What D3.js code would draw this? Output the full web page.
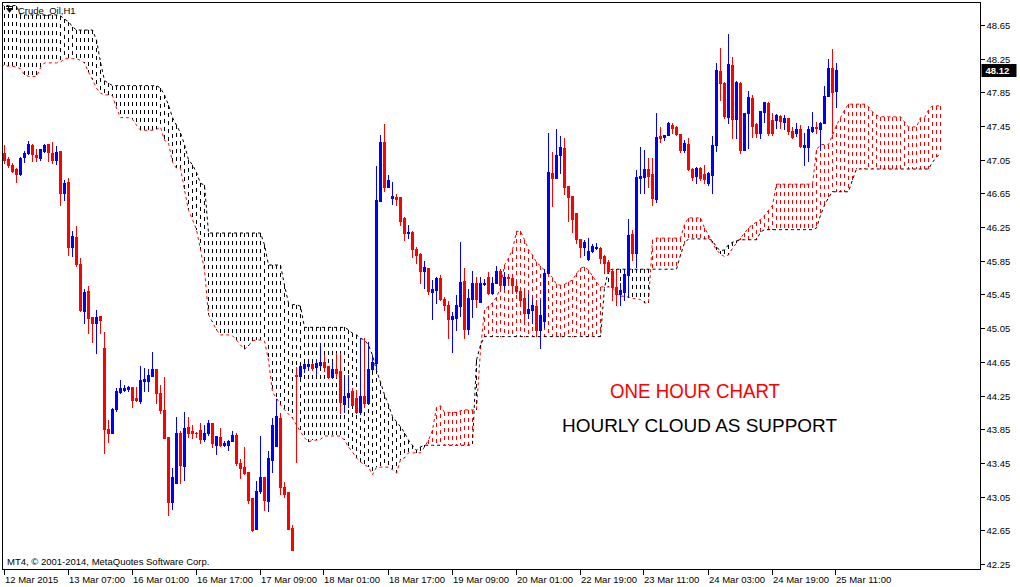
<!DOCTYPE html>
<html><head><meta charset="utf-8">
<script src="https://cdn.jsdelivr.net/npm/d3@7"></script>
<style>
html,body{margin:0;padding:0;background:#fff;}
svg{display:block;}
text{font-family:"Liberation Sans",Arial,sans-serif;}
</style></head><body>
<svg id="c" width="1020" height="587"></svg>
<script>
// ---------- DATA (hourly Crude_Oil candles, 12-25 Mar 2015) ----------
const opens = [47.13,47.06,46.99,46.94,46.88,47.08,47.13,47.23,47.11,47.07,
47.15,47.24,47.13,47.05,47.15,46.66,46.79,46.01,46.13,45.81,
45.25,45.49,45.18,45.11,45.20,44.82,43.85,43.81,44.09,44.29,
44.32,44.33,44.35,44.22,44.19,44.42,44.42,44.48,44.57,44.28,
44.08,43.76,42.99,43.21,43.81,43.41,43.88,43.83,43.81,43.84,
43.74,43.81,43.92,43.66,43.76,43.66,43.66,43.71,43.78,43.45,
43.40,43.34,43.03,42.67,43.12,43.28,43.00,43.49,43.65,43.98,
43.16,43.10,42.68,44.49,44.48,44.58,44.60,44.63,44.59,44.61,
44.65,44.60,44.47,44.57,44.54,44.15,44.23,44.30,44.22,44.05,
44.25,44.16,44.57,44.64,46.56,47.26,46.73,46.60,46.61,46.61,
46.36,46.18,46.19,45.99,45.93,45.73,45.77,45.48,45.50,45.65,
45.40,45.33,45.16,45.17,45.31,45.61,45.04,45.40,45.59,45.36,
45.58,45.66,45.47,45.59,45.73,45.56,45.66,45.65,45.55,45.49,
45.41,45.23,45.27,45.31,45.03,45.14,45.71,46.89,46.83,47.11,
47.19,46.74,46.62,46.42,46.11,46.01,45.87,45.97,46.00,46.00,
45.91,45.84,45.73,45.54,45.46,45.48,45.68,46.17,45.94,46.83,
46.85,46.94,46.88,46.58,47.33,47.32,47.34,47.46,47.44,47.36,
47.17,47.24,46.94,46.86,46.95,46.88,46.77,46.87,47.23,48.10,
47.96,47.56,48.18,47.53,47.96,47.17,47.61,47.78,47.47,47.37,
47.62,47.72,47.52,47.52,47.57,47.50,47.55,47.39,47.37,47.42,
47.20,47.20,47.39,47.44,47.42,47.49,47.81,48.14,47.87];
const highs = [47.23,47.08,47.01,46.95,47.08,47.15,47.27,47.24,47.18,47.18,
47.24,47.24,47.26,47.21,47.15,46.81,46.83,46.20,46.26,45.88,
45.52,45.55,45.18,45.27,45.20,45.00,43.96,44.10,44.34,44.44,
44.38,44.36,44.35,44.35,44.60,44.58,44.57,44.77,44.57,44.38,
44.47,43.76,43.39,43.99,43.83,44.05,44.00,43.90,43.82,43.92,
43.90,43.96,43.92,43.77,43.87,43.71,43.72,43.83,43.81,43.50,
43.64,43.34,43.03,43.24,43.77,43.28,43.59,43.98,44.21,44.04,
43.22,43.10,42.71,44.59,44.61,44.64,44.65,44.64,44.68,44.87,
44.73,44.60,44.66,44.76,44.76,44.49,44.49,44.34,44.32,44.93,
44.93,44.89,44.73,46.98,47.34,47.47,46.87,46.79,46.64,46.61,
46.37,46.28,46.20,46.01,45.94,45.85,45.77,45.62,45.66,45.68,
45.42,45.37,45.24,45.44,46.07,45.77,45.52,45.73,45.66,45.66,
45.63,45.72,45.66,45.79,45.75,45.72,45.68,45.66,45.59,45.54,
45.48,45.46,45.40,45.39,45.39,45.75,47.37,47.14,47.42,47.33,
47.31,46.74,46.62,46.42,46.11,46.10,46.12,46.05,46.06,46.01,
45.92,45.86,45.75,45.74,45.59,45.74,46.35,46.22,46.93,47.20,
47.17,47.07,47.07,47.61,47.44,47.34,47.50,47.49,47.45,47.36,
47.29,47.31,46.95,46.96,46.96,46.99,46.90,47.33,48.20,48.38,
47.97,48.54,48.27,47.98,47.97,47.61,47.87,47.82,47.49,47.63,
47.74,47.74,47.61,47.59,47.58,47.58,47.55,47.44,47.49,47.46,
47.37,47.45,47.62,47.50,47.50,47.93,48.25,48.37,48.20];
const lows = [47.01,46.96,46.90,46.79,46.87,47.02,47.12,47.04,47.04,47.05,
47.14,47.04,47.01,47.00,46.51,46.57,45.92,45.91,45.79,45.25,
45.11,44.99,44.89,44.76,44.99,43.57,43.70,43.80,44.07,44.28,
44.30,44.30,44.11,44.19,44.16,44.30,44.30,44.48,44.16,44.04,
43.75,42.83,42.90,43.21,43.21,43.25,43.76,43.75,43.76,43.69,
43.71,43.78,43.64,43.56,43.65,43.65,43.60,43.71,43.43,43.27,
43.32,42.97,42.64,42.67,43.09,42.89,42.88,43.34,43.65,43.08,
43.05,42.67,42.42,43.46,44.47,44.53,44.55,44.55,44.51,44.59,
44.54,44.46,44.46,44.47,44.04,44.06,44.11,44.14,44.04,44.03,
44.11,44.16,44.55,44.57,46.56,46.68,46.73,46.52,46.51,46.28,
46.10,46.12,45.90,45.82,45.59,45.53,45.45,45.16,45.35,45.39,
45.27,44.93,44.77,45.03,45.20,44.93,44.98,45.18,45.30,45.36,
45.56,45.46,45.46,45.59,45.52,45.52,45.59,45.52,45.47,45.34,
45.10,45.17,45.11,44.99,44.82,45.06,45.71,46.50,46.83,46.89,
46.64,46.32,46.19,46.06,45.90,45.92,45.86,45.95,45.99,45.82,
45.71,45.72,45.39,45.33,45.33,45.39,45.42,45.86,45.78,46.66,
46.66,46.73,46.51,46.55,47.26,47.28,47.34,47.37,47.34,47.14,
47.14,46.93,46.81,46.77,46.81,46.77,46.75,46.66,47.15,47.76,
47.55,47.49,47.31,47.31,47.13,47.17,47.19,47.32,47.32,47.31,
47.50,47.34,47.34,47.43,47.43,47.42,47.36,47.31,47.33,47.20,
46.99,47.04,47.38,47.37,47.17,47.49,47.81,47.37,47.68];
const closes = [47.05,46.99,46.92,46.88,47.07,47.13,47.24,47.12,47.08,47.18,
47.23,47.14,47.05,47.14,46.66,46.77,46.01,46.15,45.81,45.27,
45.48,45.17,45.11,45.18,45.15,43.85,43.81,44.09,44.30,44.34,
44.34,44.35,44.20,44.20,44.44,44.45,44.49,44.57,44.28,44.08,
43.75,42.99,43.28,43.81,43.43,43.87,43.81,43.81,43.80,43.74,
43.81,43.92,43.69,43.77,43.66,43.69,43.71,43.78,43.45,43.39,
43.33,43.01,42.65,43.12,43.28,43.01,43.51,43.90,44.01,43.16,
43.08,42.67,42.42,44.48,44.60,44.63,44.63,44.58,44.64,44.65,
44.59,44.47,44.57,44.52,44.17,44.25,44.28,44.14,44.05,44.25,
44.16,44.57,44.65,46.57,47.26,46.73,46.81,46.62,46.58,46.32,
46.18,46.19,45.99,45.92,45.73,45.78,45.49,45.52,45.65,45.40,
45.33,45.16,45.20,45.33,45.60,45.04,45.41,45.59,45.40,45.59,
45.59,45.47,45.59,45.73,45.56,45.66,45.65,45.56,45.49,45.38,
45.23,45.28,45.33,45.03,45.21,45.71,46.90,46.83,47.11,47.20,
46.73,46.61,46.35,46.11,46.01,46.07,45.97,46.03,46.01,45.88,
45.82,45.73,45.54,45.46,45.50,45.69,46.16,45.94,46.85,46.86,
46.94,46.86,46.60,47.32,47.31,47.34,47.49,47.43,47.36,47.17,
47.25,46.94,46.85,46.95,46.83,46.82,46.89,47.23,48.12,47.96,
47.57,48.19,47.53,47.97,47.17,47.61,47.80,47.45,47.37,47.63,
47.74,47.37,47.37,47.58,47.51,47.55,47.39,47.32,47.42,47.21,
47.23,47.42,47.44,47.43,47.49,47.81,48.14,47.85,48.12];

// Ichimoku cloud (Senkou Span A / B), first value belongs to bar -1, runs 26 bars past the last candle
const cloudFirstBar = -1;
const spanA = [48.17,48.17,48.16,48.16,48.15,48.13,48.06,48.04,48.04,48.04,
48.14,48.20,48.20,48.20,48.20,48.21,48.25,48.25,48.25,48.25,
48.23,48.20,48.09,48.00,47.90,47.84,47.82,47.82,47.81,47.66,
47.55,47.55,47.55,47.53,47.46,47.40,47.40,47.40,47.40,47.41,
47.44,47.28,47.25,47.02,46.95,46.95,46.69,46.45,46.34,46.22,
45.98,45.74,45.21,45.12,45.03,44.97,44.97,44.97,44.96,44.91,
44.85,44.80,44.84,44.90,44.91,44.91,44.90,44.67,44.29,44.22,
44.14,44.08,44.03,43.98,43.90,43.82,43.75,43.70,43.72,43.72,
43.73,43.77,43.77,43.77,43.77,43.77,43.72,43.64,43.58,43.51,
43.46,43.43,43.40,43.31,43.40,43.40,43.40,43.40,43.37,43.33,
43.49,43.51,43.57,43.57,43.57,43.57,43.64,43.72,43.84,44.11,
44.13,44.05,44.05,44.05,44.05,44.07,44.08,44.08,44.08,44.08,
44.79,45.27,45.31,45.35,45.42,45.53,45.80,45.88,45.98,46.20,
46.20,46.10,45.98,45.92,45.83,45.79,45.74,45.70,45.65,45.57,
45.56,45.57,45.60,45.62,45.70,45.76,45.78,45.74,45.67,45.60,
45.54,45.54,45.54,45.53,45.47,45.43,45.43,45.42,45.40,45.40,
45.39,45.35,45.35,46.10,46.12,46.12,46.12,46.12,46.12,46.12,
46.12,46.28,46.36,46.36,46.36,46.36,46.24,46.16,46.06,45.98,
45.93,45.90,45.92,46.00,46.06,46.12,46.18,46.24,46.28,46.31,
46.34,46.39,46.45,46.51,46.76,46.76,46.76,46.76,46.76,46.76,
46.76,46.76,46.76,46.76,47.17,47.23,47.23,47.23,47.34,47.46,
47.55,47.64,47.71,47.71,47.71,47.71,47.71,47.68,47.62,47.58,
47.56,47.56,47.56,47.56,47.56,47.56,47.50,47.44,47.44,47.44,
47.55,47.55,47.64,47.69,47.69,47.69];
const spanB = [48.88,48.88,48.88,48.88,48.88,48.77,48.77,48.77,48.77,48.77,
48.77,48.77,48.77,48.77,48.77,48.76,48.72,48.69,48.63,48.59,
48.59,48.59,48.59,48.59,48.47,48.21,47.99,47.96,47.93,47.93,
47.93,47.93,47.93,47.93,47.93,47.93,47.93,47.93,47.93,47.93,
47.90,47.82,47.70,47.55,47.46,47.37,47.23,47.05,46.99,46.90,
46.77,46.75,46.18,46.18,46.18,46.18,46.18,46.18,46.18,46.18,
46.18,46.18,46.18,46.18,46.18,46.18,46.04,45.80,45.80,45.80,
45.80,45.56,45.35,45.33,45.33,45.31,45.06,45.06,45.06,45.06,
45.06,45.06,45.06,45.06,45.06,45.06,45.06,45.03,44.99,44.97,
44.93,44.91,44.85,44.73,44.55,44.41,44.26,44.14,44.00,43.94,
43.88,43.81,43.72,43.66,43.60,43.64,43.66,43.66,43.66,43.66,
43.66,43.66,43.66,43.66,43.66,43.66,43.66,43.66,43.67,44.67,
44.85,44.95,44.95,44.95,44.95,44.95,44.95,44.95,44.95,44.95,
44.95,44.95,44.95,44.95,44.95,44.95,44.95,44.95,44.95,44.95,
44.95,44.95,44.95,44.95,44.95,44.95,44.95,44.95,44.95,44.95,
44.95,45.53,45.74,45.75,45.75,45.75,45.75,45.75,45.75,45.75,
45.75,45.75,45.75,45.75,45.75,45.75,45.75,45.75,45.75,45.75,
45.92,46.06,46.11,46.11,46.11,46.11,46.11,46.11,46.09,46.01,
45.97,45.98,46.04,46.07,46.09,46.10,46.10,46.10,46.10,46.10,
46.19,46.22,46.22,46.22,46.22,46.22,46.22,46.22,46.22,46.22,
46.22,46.22,46.22,46.22,46.24,46.39,46.51,46.60,46.67,46.67,
46.67,46.67,46.67,46.81,46.94,46.94,46.94,46.94,46.94,46.94,
46.94,46.94,46.94,46.94,46.94,46.94,46.94,46.94,46.94,46.94,
46.94,46.94,46.94,47.02,47.08,47.13];

const priceTicks = [48.65,48.25,47.85,47.45,47.05,46.65,46.25,45.85,45.45,45.05,44.65,44.25,43.85,43.45,43.05,42.65,42.25];
const timeLabels = ["12 Mar 2015","13 Mar 07:00","16 Mar 01:00","16 Mar 17:00","17 Mar 09:00","18 Mar 01:00","18 Mar 17:00","19 Mar 09:00","20 Mar 01:00","22 Mar 19:00","23 Mar 11:00","24 Mar 03:00","24 Mar 19:00","25 Mar 11:00"];
const timeLabelBars = [0,16,32,48,64,80,96,112,128,144,160,176,192,208];
const chartTitle = "Crude_Oil,H1";
const copyright = "MT4, \u00A9 2001-2014, MetaQuotes Software Corp.";
const note1 = "ONE HOUR CHART";
const note2 = "HOURLY CLOUD AS SUPPORT";

// ---------- LAYOUT ----------
const svg = d3.select("#c");
const L = 2.5, T = 2.5, R = 980.5, B = 569.5;
const xs = d3.scaleLinear().domain([0, 244]).range([4.5, 980.5]);
const ys = d3.scaleLinear().domain([42.25, 48.65]).range([564, 25]);
const BULL = "#0000ff", BEAR = "#ff0000";

svg.append("rect").attr("width",1020).attr("height",587).attr("fill","#fff");
svg.append("defs").append("clipPath").attr("id","plot")
  .append("rect").attr("x",L+0.5).attr("y",T+0.5).attr("width",R-L-1).attr("height",B-T-1);

const g = svg.append("g").attr("clip-path","url(#plot)");

// cloud hatch
const cloudIdx = d3.range(spanA.length);
g.append("g").attr("shape-rendering","crispEdges").selectAll("line").data(cloudIdx).join("line")
  .attr("x1", k => xs(k + cloudFirstBar)).attr("x2", k => xs(k + cloudFirstBar))
  .attr("y1", k => Math.round(Math.min(ys(spanA[k]), ys(spanB[k]))))
  .attr("y2", k => Math.round(Math.max(ys(spanA[k]), ys(spanB[k]))))
  .attr("stroke", k => spanA[k] >= spanB[k] ? BEAR : "#000")
  .attr("stroke-width",1).attr("stroke-dasharray","4,4");

// span lines
const lineA = d3.line().x((d,k) => xs(k + cloudFirstBar)).y(d => ys(d));
g.append("path").attr("d", lineA(spanA)).attr("fill","none").attr("stroke",BEAR).attr("stroke-width",1).attr("stroke-dasharray","3,3");
g.append("path").attr("d", lineA(spanB)).attr("fill","none").attr("stroke","#000").attr("stroke-width",1).attr("stroke-dasharray","3,3");

// candles
const idx = d3.range(opens.length);
const cg = g.append("g").attr("shape-rendering","crispEdges");
cg.selectAll("rect.w").data(idx).join("rect").attr("class","w")
  .attr("x", i => xs(i) - 0.5).attr("width", 1)
  .attr("y", i => Math.round(ys(highs[i])))
  .attr("height", i => Math.round(ys(lows[i])) - Math.round(ys(highs[i])) + 1)
  .attr("fill", i => closes[i] >= opens[i] ? BULL : BEAR);
cg.selectAll("rect.b").data(idx).join("rect").attr("class","b")
  .attr("x", i => xs(i) - 1.5).attr("width", 3)
  .attr("y", i => Math.round(ys(Math.max(opens[i], closes[i]))))
  .attr("height", i => Math.round(ys(Math.min(opens[i], closes[i]))) - Math.round(ys(Math.max(opens[i], closes[i]))) + 1)
  .attr("fill", i => closes[i] >= opens[i] ? BULL : BEAR);

// frame
svg.append("rect").attr("x",L).attr("y",T).attr("width",R-L).attr("height",B-T)
  .attr("fill","none").attr("stroke","#000").attr("stroke-width",1);

// right price axis
const ya = svg.append("g").attr("shape-rendering","crispEdges");
priceTicks.forEach(p => {
  const y = Math.round(ys(p)) + 0.5;
  ya.append("line").attr("x1",R).attr("x2",R+4).attr("y1",y).attr("y2",y).attr("stroke","#000");
  svg.append("text").attr("x",R+6).attr("y",y).attr("dy","0.35em")
    .attr("font-size",9.5).attr("fill","#000").text(d3.format(".2f")(p));
});
// last price marker
const lastY = Math.round(ys(closes[closes.length-1]));
svg.append("rect").attr("x",R+1).attr("y",lastY-6).attr("width",35).attr("height",13).attr("fill","#000");
svg.append("text").attr("x",R+5).attr("y",lastY+0.5).attr("dy","0.35em").attr("font-size",9.5)
  .attr("font-weight","bold").attr("fill","#fff").text(d3.format(".2f")(closes[closes.length-1]));

// bottom time axis
timeLabelBars.forEach((b,j) => {
  const x = Math.round(xs(b)) - 0.5;
  ya.append("line").attr("x1",x).attr("x2",x).attr("y1",B).attr("y2",B+5).attr("stroke","#000");
  svg.append("text").attr("x",x+0.5).attr("y",583).attr("font-size",9.5).attr("fill","#000").text(timeLabels[j]);
});

// title with icon
svg.append("path").attr("d","M6,8 L13,8 L9.5,13 Z").attr("fill","#000");
svg.append("rect").attr("x",6).attr("y",6).attr("width",7).attr("height",1).attr("fill","#000");
svg.append("text").attr("x",18).attr("y",14).attr("font-size",9.5).attr("fill","#000").text(chartTitle);

svg.append("text").attr("x",7).attr("y",565).attr("font-size",9.5).attr("fill","#000").text(copyright);

svg.append("text").attr("x",610).attr("y",398).attr("font-size",19.5)
  .attr("textLength",170).attr("lengthAdjust","spacingAndGlyphs")
  .attr("fill","#ff0000").text(note1);
svg.append("text").attr("x",562).attr("y",432).attr("font-size",19)
  .attr("textLength",275).attr("lengthAdjust","spacingAndGlyphs")
  .attr("fill","#000").text(note2);
</script>
</body></html>
